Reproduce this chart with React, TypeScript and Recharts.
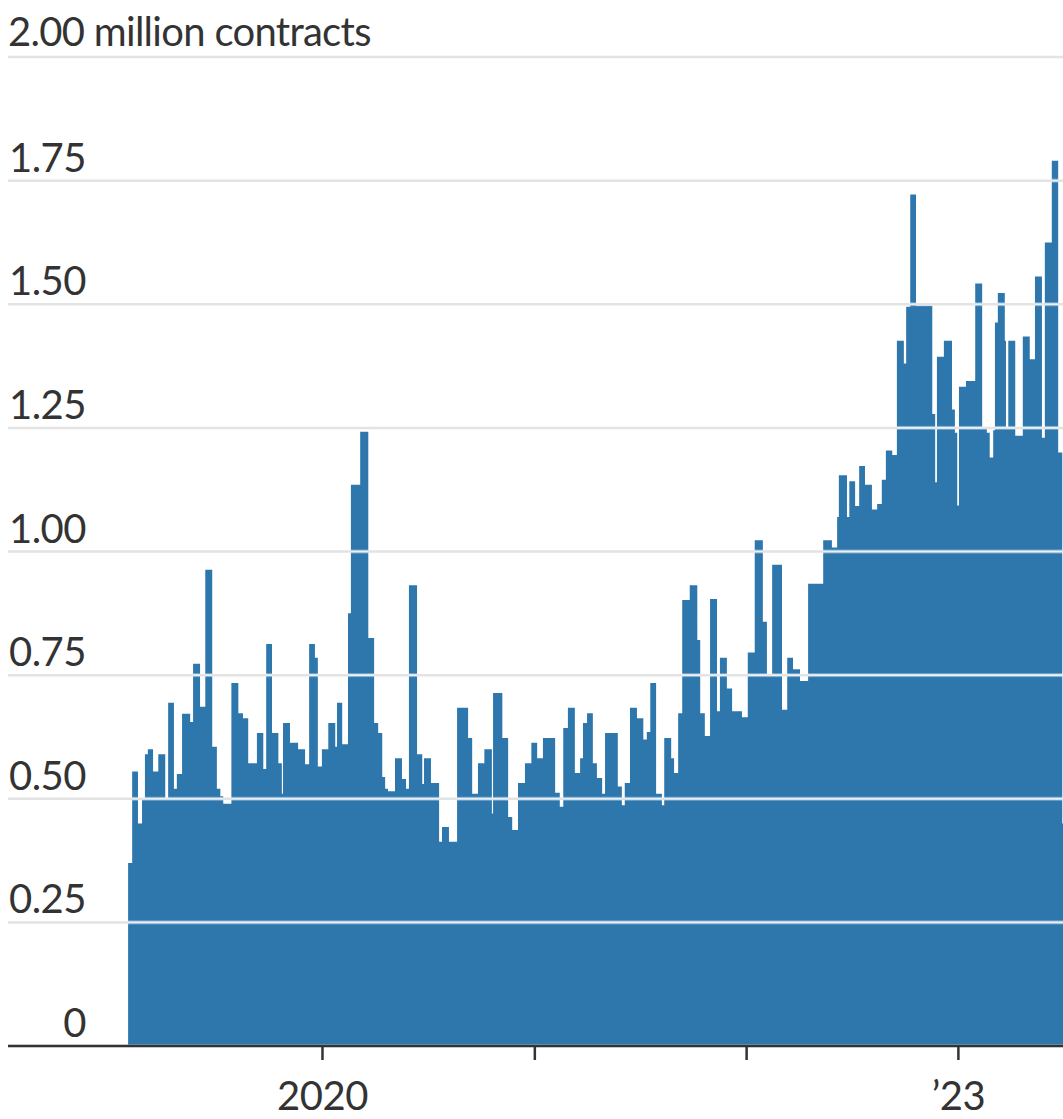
import React from 'react';
import { AreaChart, Area, XAxis, YAxis, CartesianGrid } from 'recharts';

const START_DATE = '2019-01-31';

// days after START_DATE at which the series steps to a new level
const dayOffsets = [
  0, 7, 17, 24, 29, 34, 43, 52, 64, 69, 79, 84, 93, 107, 112, 124, 133, 145, 153, 159,
  164, 178, 190, 198, 207, 222, 233, 238, 248, 259, 265, 267, 279, 293, 305, 312, 322, 327, 334, 345,
  357, 360, 369, 379, 384, 400, 414, 424, 431, 438, 443, 448, 460, 472, 479, 484, 498, 507, 510, 522,
  536, 541, 553, 567, 586, 593, 603, 614, 627, 629, 645, 655, 662, 672, 684, 695, 705, 715, 736, 744,
  750, 758, 770, 779, 784, 791, 801, 808, 817, 822, 844, 851, 856, 865, 877, 888, 894, 900, 910, 920,
  924, 936, 941, 948, 955, 968, 981, 986, 994, 1003, 1015, 1020, 1032, 1041, 1058, 1068, 1080, 1094, 1101, 1110,
  1127, 1136, 1146, 1158, 1172, 1198, 1213, 1222, 1225, 1239, 1243, 1253, 1260, 1270, 1282, 1291, 1299, 1306, 1317, 1325,
  1337, 1341, 1348, 1358, 1386, 1391, 1394, 1406, 1420, 1425, 1429, 1432, 1444, 1460, 1472, 1480, 1485, 1491, 1494, 1499,
  1511, 1513, 1517, 1529, 1542, 1554, 1563, 1575, 1580, 1592, 1603, 1610, 1612,
];

// million contracts
const contracts = [
  0.37, 0.555, 0.45, 0.5, 0.59, 0.6, 0.555, 0.59, 0.5, 0.694, 0.52, 0.55, 0.672, 0.655, 0.773, 0.686, 0.963, 0.605, 0.52, 0.505,
  0.49, 0.734, 0.673, 0.663, 0.572, 0.633, 0.56, 0.813, 0.633, 0.572, 0.51, 0.653, 0.613, 0.6, 0.57, 0.813, 0.785, 0.565, 0.6, 0.653,
  0.605, 0.694, 0.61, 0.875, 1.135, 1.242, 0.825, 0.653, 0.633, 0.544, 0.52, 0.515, 0.582, 0.54, 0.52, 0.932, 0.59, 0.53, 0.582, 0.532,
  0.413, 0.443, 0.413, 0.684, 0.623, 0.51, 0.572, 0.6, 0.47, 0.714, 0.623, 0.463, 0.437, 0.532, 0.572, 0.613, 0.582, 0.623, 0.512, 0.484,
  0.643, 0.684, 0.552, 0.582, 0.653, 0.673, 0.572, 0.542, 0.51, 0.633, 0.525, 0.487, 0.532, 0.684, 0.663, 0.62, 0.635, 0.734, 0.51, 0.487,
  0.623, 0.582, 0.552, 0.673, 0.902, 0.932, 0.821, 0.673, 0.627, 0.904, 0.677, 0.785, 0.723, 0.677, 0.665, 0.796, 1.023, 0.858, 0.75, 0.973,
  0.68, 0.785, 0.762, 0.738, 0.935, 1.023, 1.008, 1.07, 1.154, 1.07, 1.142, 1.092, 1.173, 1.135, 1.085, 1.096, 1.145, 1.204, 1.195, 1.426,
  1.38, 1.495, 1.722, 1.497, 1.278, 1.14, 1.394, 1.426, 1.287, 1.24, 1.093, 1.333, 1.345, 1.542, 1.25, 1.24, 1.19, 1.245, 1.463, 1.523,
  1.426, 1.25, 1.426, 1.234, 1.435, 1.389, 1.556, 1.23, 1.625, 1.79, 1.2, 0.45, 0.45,
];

const yTicks = [0, 0.25, 0.5, 0.75, 1, 1.25, 1.5, 1.75, 2];
const yearTicks = ['2020-01-01', '2021-01-01', '2022-01-01', '2023-01-01'];
const yearLabels = ['2020', '', '', '\u201923'];

const DAY = 864e5;
const daysFromStart = (iso: string) =>
  Math.round((Date.parse(iso) - Date.parse(START_DATE)) / DAY);

const data = dayOffsets.map((d, i) => ({ day: d, value: contracts[i] }));
const xTicks = yearTicks.map(daysFromStart);

const CHART_W = 1063;
const CHART_H = 1119;
const PLOT_TOP = 57;
const PLOT_BOTTOM = 1046;
const BAND = (PLOT_BOTTOM - PLOT_TOP) / (yTicks.length - 1);
const X_MIN = -207;
const X_MAX = 1611.3;

const BLUE = '#2e77ad';
const GRID = '#e3e3e3';
const GRID_ON_FILL = '#e9f1f7';
const INK = '#333333';
const FONT = 'Lato, "Noto Sans", sans-serif';

const YTick = ({ y, payload }: any) => {
  const v = payload.value as number;
  if (v === 2) {
    return (
      <text x={8} y={y - 11} fill={INK} fontSize={40} fontFamily={FONT} letterSpacing={-0.7} textAnchor="start">
        2.00 million contracts
      </text>
    );
  }
  return (
    <text x={86} y={y - 9} fill={INK} fontSize={40} fontFamily={FONT} letterSpacing={-0.5} textAnchor="end">
      {v === 0 ? '0' : v.toFixed(2)}
    </text>
  );
};

const XTick = ({ x, y, payload }: any) => {
  const label = yearLabels[xTicks.indexOf(payload.value)] || '';
  return (
    <text x={x} y={y + 48} fill={INK} fontSize={40} fontFamily={FONT} letterSpacing={-0.5} textAnchor="middle">
      {label}
    </text>
  );
};

export default function App() {
  return (
    <div style={{ width: CHART_W, height: CHART_H, background: '#fff' }}>
      <style>{'body{margin:0;overflow:hidden}'}</style>
      <AreaChart
        width={CHART_W}
        height={CHART_H}
        data={data}
        margin={{ top: PLOT_TOP, right: 0, bottom: 0, left: 8 }}
      >
        <defs>
          {/* fill with light grid bands so the gridlines show through the area */}
          <pattern id="areaFill" patternUnits="userSpaceOnUse" x={0} y={PLOT_TOP} width={20} height={BAND}>
            <rect x={0} y={0} width={20} height={BAND} fill={BLUE} />
            <rect x={0} y={0} width={20} height={1.4} fill={GRID_ON_FILL} />
            <rect x={0} y={BAND - 1.4} width={20} height={1.4} fill={GRID_ON_FILL} />
          </pattern>
        </defs>
        <CartesianGrid vertical={false} stroke={GRID} strokeWidth={2.5} />
        <XAxis
          dataKey="day"
          type="number"
          domain={[X_MIN, X_MAX]}
          allowDataOverflow
          ticks={xTicks}
          interval={0}
          height={CHART_H - PLOT_BOTTOM}
          tick={<XTick />}
          tickSize={14}
          axisLine={{ stroke: INK, strokeWidth: 2.5 }}
          tickLine={{ stroke: INK, strokeWidth: 2.5 }}
        />
        <YAxis
          domain={[0, 2]}
          ticks={yTicks}
          interval={0}
          mirror
          axisLine={false}
          tickLine={false}
          tick={<YTick />}
        />
        <Area
          type="stepAfter"
          dataKey="value"
          stroke="none"
          fill="url(#areaFill)"
          fillOpacity={1}
          dot={false}
          activeDot={false}
          isAnimationActive={false}
        />
      </AreaChart>
    </div>
  );
}
